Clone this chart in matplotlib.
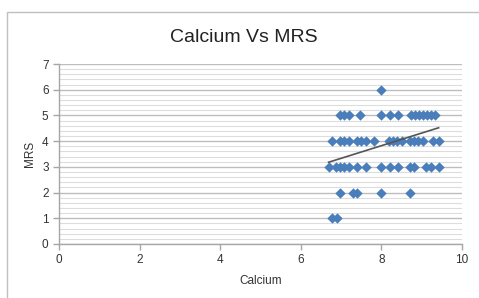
import numpy as np
import matplotlib
matplotlib.use("Agg")
import matplotlib.pyplot as plt
from matplotlib.ticker import MultipleLocator
from matplotlib.patches import Rectangle

title = "Calcium Vs MRS"
x_label = "Calcium"
y_label = "MRS"

calcium_mrs6 = [8.0]
calcium_mrs5 = [6.97, 7.08, 7.19, 7.48, 8.0, 8.21, 8.41, 8.73, 8.83, 8.93, 9.02, 9.12, 9.22, 9.32]
calcium_mrs4 = [6.77, 6.97, 7.08, 7.19, 7.39, 7.5, 7.61, 7.81, 8.19, 8.29, 8.39, 8.5,
                8.71, 8.81, 8.92, 9.02, 9.29, 9.42]
calcium_mrs3 = [6.69, 6.87, 6.97, 7.08, 7.19, 7.39, 7.61, 8.0, 8.21, 8.41, 8.71, 8.81,
                9.11, 9.22, 9.42]
calcium_mrs2 = [6.98, 7.29, 7.39, 8.0, 8.71]
calcium_mrs1 = [6.77, 6.89]

# linear trendline as drawn in the reference (endpoints)
trend_x = [6.69, 9.42]
trend_y = [3.18, 4.52]

groups = [(6, calcium_mrs6), (5, calcium_mrs5), (4, calcium_mrs4),
          (3, calcium_mrs3), (2, calcium_mrs2), (1, calcium_mrs1)]
xs = np.array([x for mrs, g in groups for x in g])
ys = np.array([mrs for mrs, g in groups for x in g], dtype=float)

plt.rcParams['font.family'] = ['Liberation Sans Narrow', 'Liberation Sans', 'DejaVu Sans']

fig = plt.figure(figsize=(4.79, 2.98), dpi=100)
ax = fig.add_axes([59/479, 1-244/298, (462-59)/479, (244-64)/298])

# chart border
fig.patches.append(Rectangle((7/479, -0.1), 1.1, 1 - 12/298 + 0.1, transform=fig.transFigure,
                             fill=False, edgecolor='#BFBFBF', linewidth=1.0))

ax.set_xlim(0, 10)
ax.set_ylim(0, 7)
ax.xaxis.set_major_locator(MultipleLocator(2))
ax.yaxis.set_major_locator(MultipleLocator(1))
ax.yaxis.set_minor_locator(MultipleLocator(0.2))
ax.grid(True, which='major', axis='y', color='#BDBDBD', linewidth=1.0)
ax.grid(True, which='minor', axis='y', color='#DDDDDD', linewidth=0.8)
ax.set_axisbelow(True)
for s in ['top', 'right']:
    ax.spines[s].set_visible(False)
for s in ['left', 'bottom']:
    ax.spines[s].set_color('#A6A6A6')
    ax.spines[s].set_linewidth(1.0)
ax.tick_params(axis='both', which='major', color='#A6A6A6', length=4, width=1,
               labelsize=8.5, labelcolor='#333333')
ax.tick_params(axis='y', which='minor', length=0)

ax.scatter(xs, ys, marker='D', s=28, color='#4A7EBB', zorder=3, linewidths=0)

ax.plot(trend_x, trend_y, color='#555555', linewidth=1.2, zorder=4)

fig.text(244/479, 1-37/298, title, ha='center', va='center', fontsize=14, color='#222222')
ax.set_xlabel(x_label, fontsize=8.5, color='#333333', labelpad=6)
ax.set_ylabel(y_label, fontsize=8.5, color='#333333', labelpad=4)

fig.savefig("out.png", dpi=100)
